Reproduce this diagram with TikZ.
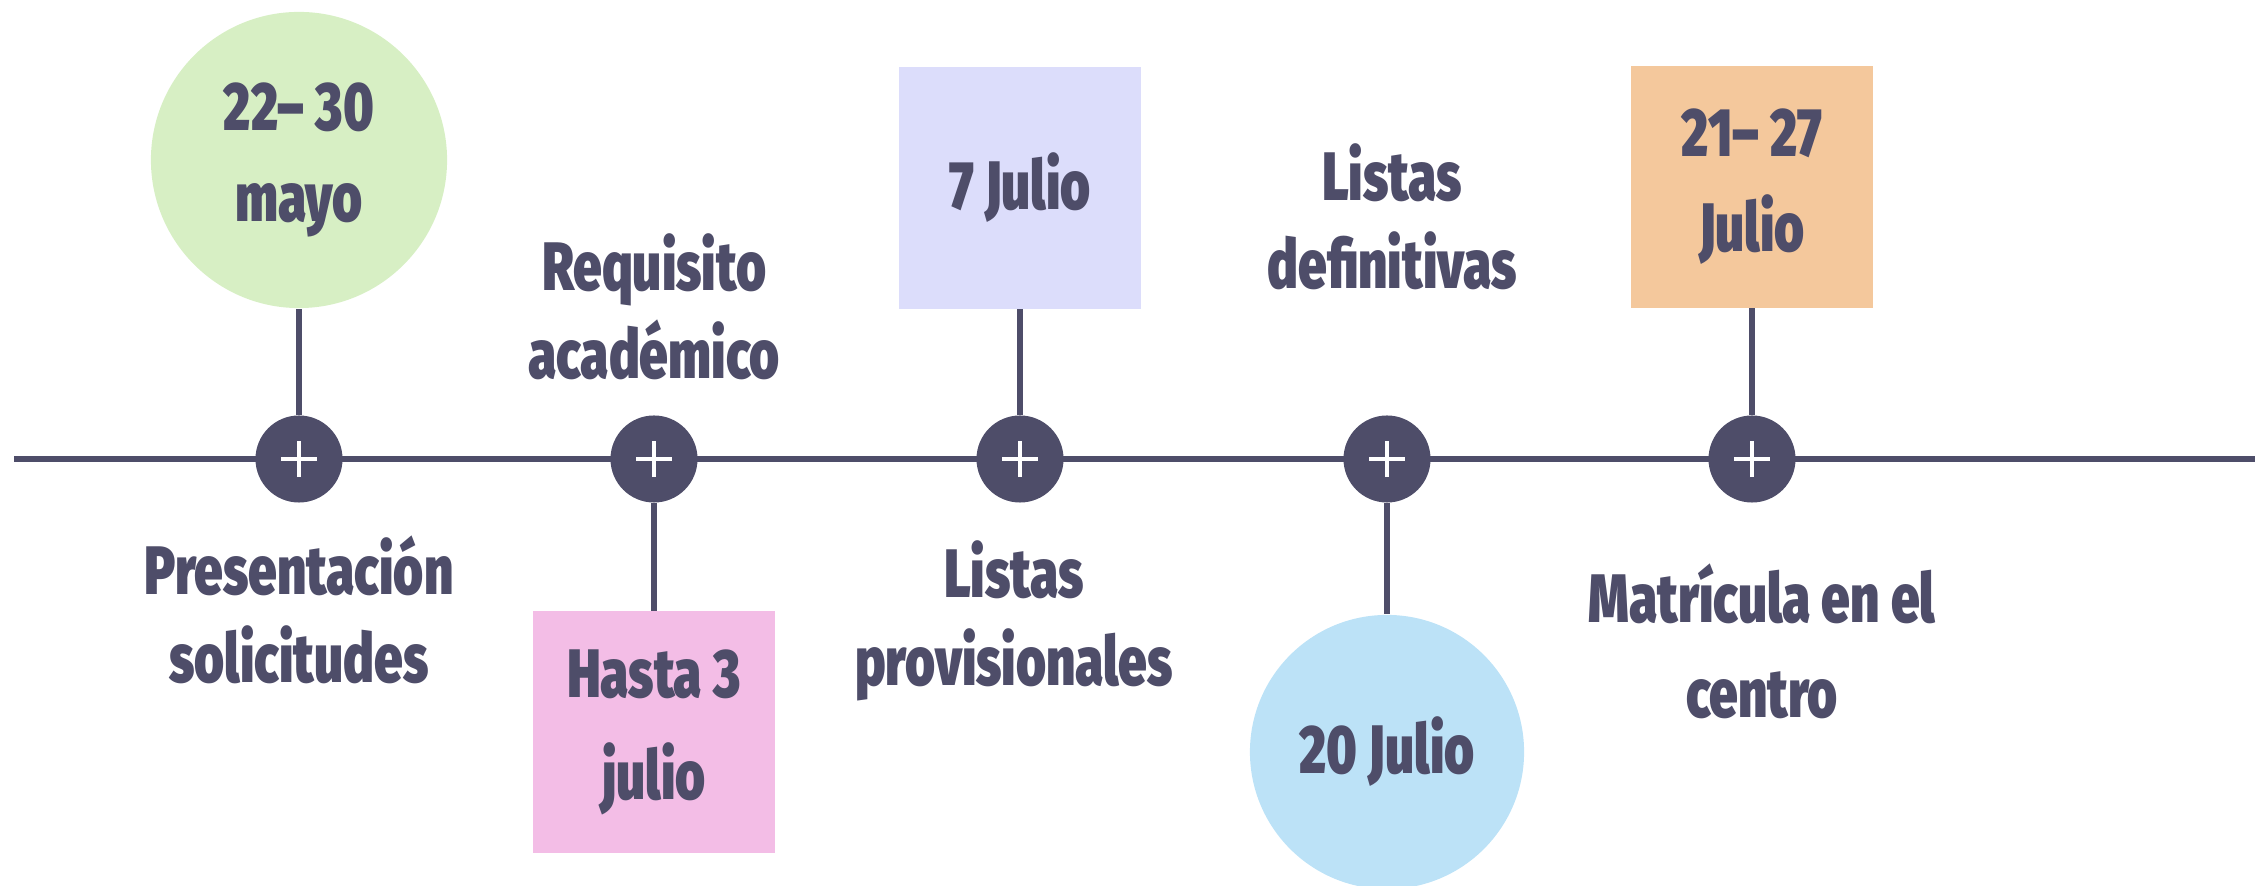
\documentclass[tikz,border=0pt]{standalone}
\usepackage{fontspec}
\setmainfont{Fira Sans}[UprightFont=* Black, FakeStretch=0.75]
\definecolor{ink}{HTML}{4E4D69}
\definecolor{mint}{HTML}{D7EFC4}
\definecolor{rosa}{HTML}{F3BDE6}
\definecolor{lila}{HTML}{DCDDFB}
\definecolor{cielo}{HTML}{BCE2F7}
\definecolor{melon}{HTML}{F4C89C}
\begin{document}
\begin{tikzpicture}[x=0.01cm,y=-0.01cm,
		every node/.style={text=ink,align=center,font=\fontsize{19.5}{25}\selectfont},
		hub/.style={circle,fill=ink,minimum size=0.87cm,inner sep=0pt},
		disc/.style={circle,inner sep=0pt},
		card/.style={rectangle,minimum size=2.41cm,inner sep=0pt},
		link/.style={draw=ink,line width=1.6pt}]
		\useasboundingbox (0,0) rectangle (2255,886);
		\coordinate (west) at (14,459);
		\coordinate (east) at (2255,459);
		\draw[link] (west)--(east);
		% dates
		\node[disc,fill=mint,minimum size=2.96cm,name=d1] at (299,160){22-- 30\\[1pt]mayo};
		\node[card,fill=rosa,name=d2] at (654,732){Hasta 3\\[4pt]julio};
		\node[card,fill=lila,name=d3] at (1020,188){7 Julio};
		\node[disc,fill=cielo,minimum size=2.74cm,name=d4] at (1387,752){20 Julio};
		\node[card,fill=melon,name=d5] at (1752,187){21-- 27\\[2pt]Julio};
		% captions
		\node[name=c1] at (299,610){Presentación\\solicitudes};
		\node[name=c2] at (654,307){Requisito\\académico};
		\node[name=c3] at (1014,621){Listas\\provisionales};
		\node[name=c4] at (1392,217){Listas\\definitivas};
		\node[name=c5] at (1762,641){Matrícula en el\\[2pt]centro};
		\foreach \n/\x in {1/299,2/654,3/1020,4/1387,5/1752}{
			\node[hub,name=p\n] at (\x,459){};
			\draw[link] (p\n)--(d\n);
			\draw[white,line width=1.1pt] ([xshift=-0.18cm]p\n.center)--([xshift=0.18cm]p\n.center)
				([yshift=-0.18cm]p\n.center)--([yshift=0.18cm]p\n.center);
		}
	\end{tikzpicture}
\end{document}
